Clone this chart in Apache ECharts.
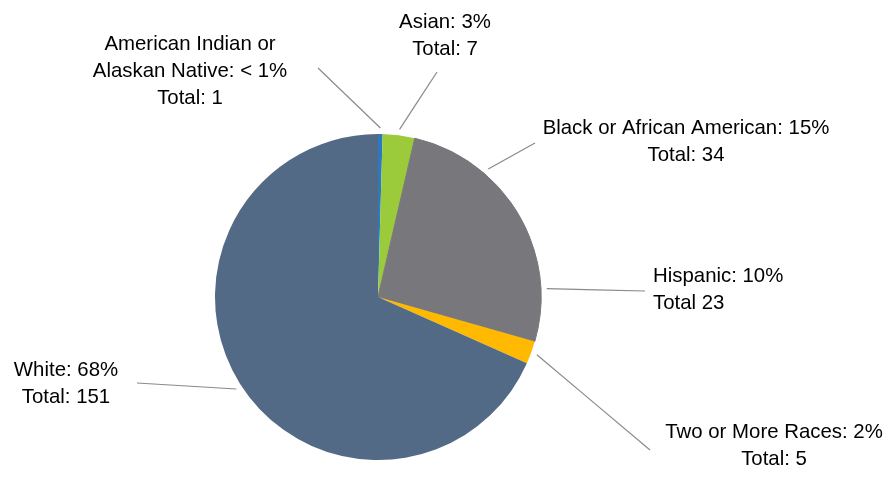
<!DOCTYPE html>
<html><head><meta charset="utf-8">
<script src="https://cdn.jsdelivr.net/npm/echarts@6/dist/echarts.min.js"></script>
<style>html,body{margin:0;padding:0;background:#fff}#c{width:890px;height:479px}</style>
</head><body><div id="c"></div>
<script>
// ---- data ----
const categories = ['American Indian or\nAlaskan Native', 'Asian', 'Black or African American', 'Hispanic', 'Two or More Races', 'White'];
const totals = [1, 7, 34, 23, 5, 151];
const percentLabels = ['< 1%', '3%', '15%', '10%', '2%', '68%'];
const totalWords = ['Total:', 'Total:', 'Total:', 'Total', 'Total:', 'Total:'];
const colors = ['#2E78BE', '#9BCB3A', '#78787C', '#78787C', '#FFB900', '#536A86'];

// ---- layout (positions only) ----
const CX = 378, CY = 297, R = 163, GAP = 6;
const labelPos = [[190, 71, 'center'], [445, 36, 'center'], [686, 142, 'center'], [653, 290, 'left'], [774, 446, 'center'], [66, 384, 'center']];
const lineEnds = [[318, 68], [437, 72], [535, 143], [645, 291], [650, 450], [137, 383]];

const sum = totals.reduce((a, b) => a + b, 0);
const midAngles = [];
let acc = 0;
totals.forEach(v => { midAngles.push((acc + v / 2) / sum * 2 * Math.PI); acc += v; });

const chart = echarts.init(document.getElementById('c'), null, { renderer: 'canvas' });
chart.setOption({
  animation: false,
  backgroundColor: '#fff',
  series: [{
    type: 'pie',
    center: [CX, CY],
    radius: R,
    startAngle: 90,
    clockwise: true,
    avoidLabelOverlap: false,
    emphasis: { disabled: true },
    itemStyle: { borderWidth: 0 },
    data: categories.map((c, i) => ({
      name: c, value: totals[i],
      itemStyle: (i === 2 || i === 3)
        ? { color: colors[i], borderColor: colors[i], borderWidth: 1 }
        : { color: colors[i] },
      label: { formatter: c + ': ' + percentLabels[i] + '\n' + totalWords[i] + ' ' + totals[i] }
    })),
    label: {
      show: true, position: 'outside',
      color: '#000', fontSize: 20.4, lineHeight: 27,
      fontFamily: 'Liberation Sans, Arial, sans-serif'
    },
    labelLine: { show: true, lineStyle: { color: '#8a8a8a', width: 1.2 } },
    labelLayout: function (p) {
      const i = p.dataIndex;
      const a = midAngles[i];
      const sx = CX + (R + GAP) * Math.sin(a), sy = CY - (R + GAP) * Math.cos(a);
      const e = lineEnds[i];
      return {
        x: labelPos[i][0], y: labelPos[i][1],
        align: labelPos[i][2], verticalAlign: 'middle',
        labelLinePoints: [[sx, sy], [(sx + e[0]) / 2, (sy + e[1]) / 2], [e[0], e[1]]]
      };
    }
  }]
});
</script></body></html>
